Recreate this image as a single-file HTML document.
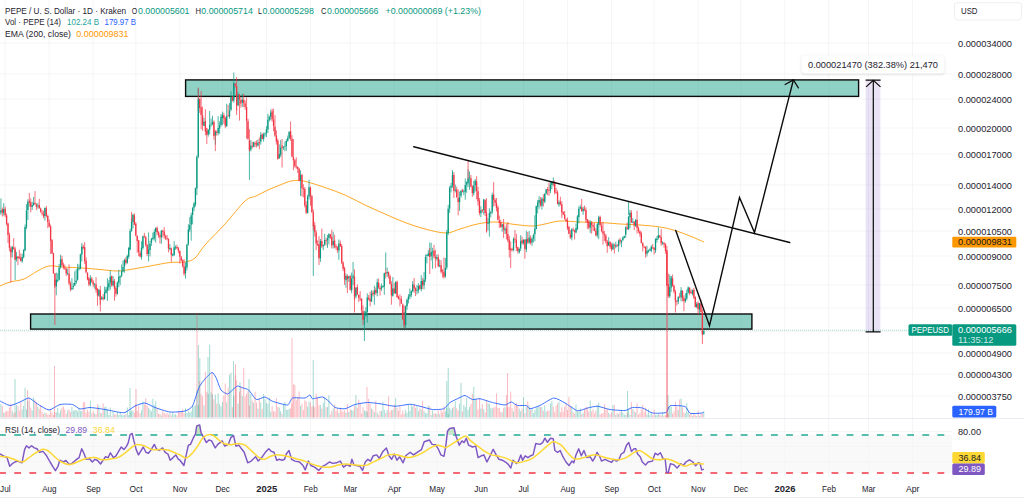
<!DOCTYPE html>
<html><head><meta charset="utf-8"><title>PEPE / U. S. Dollar</title>
<style>html,body{margin:0;padding:0;background:#fff;width:1024px;height:498px;overflow:hidden;font-family:"Liberation Sans",sans-serif}</style>
</head><body>
<svg width="1024" height="498" viewBox="0 0 1024 498" style="position:absolute;left:0;top:0" font-family="Liberation Sans, sans-serif">
<rect x="0" y="0" width="1024" height="498" fill="#ffffff"/>
<rect x="0" y="435" width="952" height="38" fill="#f9f9f9"/>
<path d="M5.17 0V478 M49.19 0V478 M93.21 0V478 M135.81 0V478 M179.83 0V478 M222.43 0V478 M266.45 0V478 M310.47 0V478 M350.23 0V478 M394.25 0V478 M436.85 0V478 M480.87 0V478 M523.47 0V478 M567.49 0V478 M611.51 0V478 M654.11 0V478 M698.13 0V478 M740.73 0V478 M784.75 0V478 M828.77 0V478 M868.53 0V478 M912.55 0V478 M0 43H952 M0 74H952 M0 99H952 M0 128H952 M0 154H952 M0 185H952 M0 209H952 M0 231H952 M0 256H952 M0 285H952 M0 308H952 M0 331.6H952 M0 353H952 M0 374H952 M0 396H952 M0 431.5H952 M0 446.5H952 M0 461.5H952" stroke="#f5f5f7" stroke-width="1" fill="none"/>
<path d="M0 418.5H1024" stroke="#e9ebf0" stroke-width="1"/>
<path d="M0 497.5H1024" stroke="#ececec" stroke-width="1"/>
<rect x="185.6" y="79.9" width="673" height="16.5" fill="#089981" fill-opacity="0.45" stroke="#0b0b0b" stroke-width="1.4"/>
<rect x="30.6" y="314.0" width="721.3" height="15.1" fill="#089981" fill-opacity="0.45" stroke="#0b0b0b" stroke-width="1.4"/>
<path d="M-0.51 417.5V407.47 M0.91 417.5V404.07 M3.75 417.5V412.52 M12.27 417.5V410.93 M16.53 417.5V404.96 M22.21 417.5V409.35 M23.63 417.5V405.77 M25.05 417.5V387.69 M26.47 417.5V409.53 M27.89 417.5V401.09 M32.15 417.5V410.50 M33.57 417.5V397.39 M37.83 417.5V406.52 M44.93 417.5V412.44 M56.29 417.5V412.31 M57.71 417.5V407.95 M59.13 417.5V413.11 M60.55 417.5V410.21 M67.65 417.5V410.49 M71.91 417.5V406.91 M73.33 417.5V410.94 M74.75 417.5V410.09 M76.17 417.5V410.09 M77.59 417.5V411.49 M79.01 417.5V408.26 M80.43 417.5V411.10 M81.85 417.5V410.88 M90.37 417.5V400.58 M94.63 417.5V413.62 M98.89 417.5V405.67 M101.73 417.5V413.08 M104.57 417.5V407.25 M105.99 417.5V406.59 M107.41 417.5V409.27 M108.83 417.5V414.95 M110.25 417.5V407.64 M113.09 417.5V411.65 M117.35 417.5V411.84 M118.77 417.5V414.97 M120.19 417.5V411.99 M121.61 417.5V414.69 M123.03 417.5V415.32 M124.45 417.5V414.94 M127.29 417.5V407.56 M128.71 417.5V415.15 M130.13 417.5V411.43 M131.55 417.5V410.64 M132.97 417.5V410.56 M141.49 417.5V410.25 M142.91 417.5V401.31 M148.59 417.5V407.82 M150.01 417.5V409.35 M151.43 417.5V411.39 M152.85 417.5V398.86 M154.27 417.5V404.98 M155.69 417.5V400.85 M161.37 417.5V415.43 M169.89 417.5V413.14 M172.73 417.5V412.37 M174.15 417.5V414.86 M175.57 417.5V414.10 M185.51 417.5V408.26 M186.93 417.5V413.00 M188.35 417.5V410.96 M189.77 417.5V412.79 M191.19 417.5V411.38 M192.61 417.5V405.76 M194.03 417.5V405.99 M195.45 417.5V404.86 M196.87 417.5V390.37 M198.29 417.5V405.26 M203.97 417.5V405.47 M208.23 417.5V394.04 M209.65 417.5V344.71 M211.07 417.5V392.46 M212.49 417.5V394.29 M215.33 417.5V394.50 M218.17 417.5V393.47 M219.59 417.5V404.08 M221.01 417.5V406.39 M222.43 417.5V401.97 M226.69 417.5V402.36 M229.53 417.5V374.79 M230.95 417.5V372.86 M233.79 417.5V396.31 M238.05 417.5V403.61 M242.31 417.5V396.09 M250.83 417.5V394.37 M253.67 417.5V402.91 M257.93 417.5V408.55 M260.77 417.5V402.64 M263.61 417.5V393.93 M265.03 417.5V399.10 M266.45 417.5V402.83 M267.87 417.5V404.24 M269.29 417.5V397.50 M270.71 417.5V411.67 M279.23 417.5V407.54 M280.65 417.5V411.05 M283.49 417.5V403.85 M284.91 417.5V401.99 M286.33 417.5V409.75 M287.75 417.5V409.93 M289.17 417.5V408.70 M300.53 417.5V405.82 M307.63 417.5V406.61 M309.05 417.5V401.63 M320.41 417.5V405.04 M323.25 417.5V402.87 M324.67 417.5V396.95 M327.51 417.5V406.87 M328.93 417.5V395.27 M333.19 417.5V408.39 M338.87 417.5V412.99 M345.97 417.5V412.65 M348.81 417.5V411.93 M351.65 417.5V409.84 M353.07 417.5V410.54 M355.91 417.5V395.15 M364.43 417.5V410.49 M365.85 417.5V411.01 M367.27 417.5V411.67 M371.53 417.5V408.48 M374.37 417.5V412.28 M377.21 417.5V412.61 M381.47 417.5V410.97 M382.89 417.5V401.85 M384.31 417.5V409.67 M387.15 417.5V410.16 M392.83 417.5V410.01 M395.67 417.5V398.22 M405.61 417.5V410.12 M407.03 417.5V412.82 M408.45 417.5V404.39 M409.87 417.5V411.00 M411.29 417.5V404.55 M412.71 417.5V406.67 M416.97 417.5V406.39 M418.39 417.5V411.19 M421.23 417.5V409.50 M424.07 417.5V410.93 M425.49 417.5V413.42 M426.91 417.5V412.91 M428.33 417.5V405.63 M431.17 417.5V415.10 M432.59 417.5V410.28 M436.85 417.5V413.94 M439.69 417.5V414.20 M445.37 417.5V411.33 M446.79 417.5V407.74 M448.21 417.5V413.78 M449.63 417.5V407.96 M451.05 417.5V409.72 M452.47 417.5V407.94 M455.31 417.5V401.11 M459.57 417.5V403.70 M460.99 417.5V382.83 M463.83 417.5V405.00 M465.25 417.5V407.11 M466.67 417.5V397.94 M468.09 417.5V409.85 M469.51 417.5V406.93 M473.77 417.5V386.68 M475.19 417.5V399.02 M480.87 417.5V408.53 M483.71 417.5V409.16 M487.97 417.5V403.14 M489.39 417.5V403.96 M490.81 417.5V407.95 M492.23 417.5V408.41 M502.17 417.5V412.43 M505.01 417.5V407.18 M513.53 417.5V411.68 M519.21 417.5V408.58 M520.63 417.5V411.29 M523.47 417.5V397.10 M526.31 417.5V407.09 M529.15 417.5V405.14 M531.99 417.5V407.84 M533.41 417.5V413.20 M534.83 417.5V410.44 M536.25 417.5V407.75 M537.67 417.5V405.71 M539.09 417.5V406.92 M541.93 417.5V406.98 M544.77 417.5V405.37 M546.19 417.5V411.74 M550.45 417.5V403.35 M551.87 417.5V401.07 M558.97 417.5V401.88 M571.75 417.5V406.56 M576.01 417.5V404.45 M577.43 417.5V411.18 M578.85 417.5V411.89 M580.27 417.5V408.33 M583.11 417.5V412.90 M590.21 417.5V400.54 M597.31 417.5V404.71 M598.73 417.5V402.42 M608.67 417.5V412.87 M612.93 417.5V404.86 M615.77 417.5V414.71 M618.61 417.5V414.04 M621.45 417.5V410.19 M622.87 417.5V412.50 M624.29 417.5V414.50 M625.71 417.5V415.07 M628.55 417.5V408.90 M629.97 417.5V414.90 M632.81 417.5V408.90 M635.65 417.5V412.42 M647.01 417.5V414.33 M648.43 417.5V409.21 M649.85 417.5V415.17 M651.27 417.5V411.77 M655.53 417.5V415.14 M656.95 417.5V415.05 M658.37 417.5V414.00 M662.63 417.5V412.46 M669.73 417.5V406.10 M671.15 417.5V407.01 M678.25 417.5V409.96 M681.09 417.5V398.47 M685.35 417.5V413.28 M686.77 417.5V402.95 M688.19 417.5V411.86 M692.45 417.5V416.09 M696.71 417.5V416.20 M699.55 417.5V416.12 M703.81 417.5V410.95 M198.40 417.5V345 M199.80 417.5V358 M208.00 417.5V357 M233.50 417.5V361 M249.00 417.5V379 M313.25 417.5V360 M448.25 417.5V368 M446.80 417.5V381 M627.50 417.5V391 M668.00 417.5V395 M15.00 417.5V379 M130.00 417.5V388 M240.00 417.5V382" stroke="#089981" stroke-opacity="0.38" stroke-width="0.95" fill="none"/>
<path d="M2.33 417.5V405.72 M5.17 417.5V412.39 M6.59 417.5V410.74 M8.01 417.5V411.32 M9.43 417.5V407.57 M10.85 417.5V403.73 M13.69 417.5V413.55 M15.11 417.5V412.30 M17.95 417.5V406.29 M19.37 417.5V410.61 M20.79 417.5V402.42 M29.31 417.5V399.04 M30.73 417.5V407.56 M34.99 417.5V399.77 M36.41 417.5V401.84 M39.25 417.5V408.95 M40.67 417.5V404.85 M42.09 417.5V411.50 M43.51 417.5V413.98 M46.35 417.5V413.27 M47.77 417.5V414.64 M49.19 417.5V414.63 M50.61 417.5V408.82 M52.03 417.5V412.77 M53.45 417.5V415.02 M54.87 417.5V412.22 M61.97 417.5V407.73 M63.39 417.5V406.42 M64.81 417.5V409.40 M66.23 417.5V413.78 M69.07 417.5V409.33 M70.49 417.5V411.98 M83.27 417.5V402.22 M84.69 417.5V401.85 M86.11 417.5V412.55 M87.53 417.5V409.56 M88.95 417.5V411.58 M91.79 417.5V413.14 M93.21 417.5V411.38 M96.05 417.5V414.09 M97.47 417.5V404.22 M100.31 417.5V412.91 M103.15 417.5V403.48 M111.67 417.5V416.30 M114.51 417.5V414.46 M115.93 417.5V414.32 M125.87 417.5V414.29 M134.39 417.5V412.77 M135.81 417.5V404.32 M137.23 417.5V411.02 M138.65 417.5V406.10 M140.07 417.5V413.12 M144.33 417.5V404.55 M145.75 417.5V398.08 M147.17 417.5V405.56 M157.11 417.5V407.96 M158.53 417.5V413.87 M159.95 417.5V413.68 M162.79 417.5V410.97 M164.21 417.5V413.07 M165.63 417.5V414.53 M167.05 417.5V412.77 M168.47 417.5V414.55 M171.31 417.5V415.31 M176.99 417.5V415.46 M178.41 417.5V411.13 M179.83 417.5V412.03 M181.25 417.5V411.49 M182.67 417.5V409.26 M184.09 417.5V413.10 M199.71 417.5V381.05 M201.13 417.5V394.14 M202.55 417.5V396.38 M205.39 417.5V371.57 M206.81 417.5V391.76 M213.91 417.5V399.29 M216.75 417.5V403.64 M223.85 417.5V395.65 M225.27 417.5V383.67 M228.11 417.5V387.64 M232.37 417.5V407.11 M235.21 417.5V375.28 M236.63 417.5V380.19 M239.47 417.5V391.92 M240.89 417.5V386.65 M243.73 417.5V367.78 M245.15 417.5V396.51 M246.57 417.5V393.75 M247.99 417.5V391.05 M249.41 417.5V405.72 M252.25 417.5V400.89 M255.09 417.5V391.79 M256.51 417.5V402.51 M259.35 417.5V398.99 M262.19 417.5V408.96 M272.13 417.5V406.24 M273.55 417.5V411.08 M274.97 417.5V411.55 M276.39 417.5V398.10 M277.81 417.5V406.80 M282.07 417.5V413.75 M290.59 417.5V408.38 M292.01 417.5V403.68 M293.43 417.5V384.35 M294.85 417.5V384.75 M296.27 417.5V400.24 M297.69 417.5V397.14 M299.11 417.5V391.45 M301.95 417.5V403.85 M303.37 417.5V410.22 M304.79 417.5V400.35 M306.21 417.5V401.57 M310.47 417.5V402.44 M311.89 417.5V406.82 M313.31 417.5V405.68 M314.73 417.5V407.22 M316.15 417.5V393.59 M317.57 417.5V396.97 M318.99 417.5V405.14 M321.83 417.5V408.70 M326.09 417.5V407.40 M330.35 417.5V414.52 M331.77 417.5V411.04 M334.61 417.5V404.59 M336.03 417.5V410.89 M337.45 417.5V409.08 M340.29 417.5V407.51 M341.71 417.5V410.50 M343.13 417.5V411.74 M344.55 417.5V410.52 M347.39 417.5V404.22 M350.23 417.5V409.57 M354.49 417.5V406.22 M357.33 417.5V407.74 M358.75 417.5V399.76 M360.17 417.5V403.15 M361.59 417.5V413.74 M363.01 417.5V407.18 M368.69 417.5V398.73 M370.11 417.5V404.07 M372.95 417.5V409.66 M375.79 417.5V400.76 M378.63 417.5V414.90 M380.05 417.5V410.91 M385.73 417.5V412.98 M388.57 417.5V396.55 M389.99 417.5V411.82 M391.41 417.5V409.94 M394.25 417.5V404.55 M397.09 417.5V407.90 M398.51 417.5V410.82 M399.93 417.5V406.25 M401.35 417.5V414.43 M402.77 417.5V410.42 M404.19 417.5V413.79 M414.13 417.5V403.85 M415.55 417.5V407.84 M419.81 417.5V408.44 M422.65 417.5V401.05 M429.75 417.5V406.31 M434.01 417.5V413.49 M435.43 417.5V413.46 M438.27 417.5V410.33 M441.11 417.5V409.99 M442.53 417.5V412.36 M443.95 417.5V406.12 M453.89 417.5V406.86 M456.73 417.5V408.23 M458.15 417.5V410.53 M462.41 417.5V411.51 M470.93 417.5V404.03 M472.35 417.5V393.64 M476.61 417.5V399.18 M478.03 417.5V409.60 M479.45 417.5V398.32 M482.29 417.5V404.05 M485.13 417.5V412.42 M486.55 417.5V400.57 M493.65 417.5V407.61 M495.07 417.5V407.10 M496.49 417.5V393.36 M497.91 417.5V407.82 M499.33 417.5V407.85 M500.75 417.5V411.96 M503.59 417.5V408.13 M506.43 417.5V395.08 M507.85 417.5V407.32 M509.27 417.5V406.88 M510.69 417.5V391.61 M512.11 417.5V408.21 M514.95 417.5V404.84 M516.37 417.5V402.84 M517.79 417.5V405.55 M522.05 417.5V408.72 M524.89 417.5V413.19 M527.73 417.5V401.52 M530.57 417.5V409.70 M540.51 417.5V406.88 M543.35 417.5V410.83 M547.61 417.5V410.56 M549.03 417.5V410.54 M553.29 417.5V406.71 M554.71 417.5V412.19 M556.13 417.5V405.55 M557.55 417.5V403.46 M560.39 417.5V412.29 M561.81 417.5V407.10 M563.23 417.5V411.75 M564.65 417.5V406.68 M566.07 417.5V403.58 M567.49 417.5V410.05 M568.91 417.5V396.97 M570.33 417.5V405.45 M573.17 417.5V412.23 M574.59 417.5V413.96 M581.69 417.5V414.23 M584.53 417.5V408.87 M585.95 417.5V406.79 M587.37 417.5V407.60 M588.79 417.5V411.50 M591.63 417.5V411.40 M593.05 417.5V409.20 M594.47 417.5V413.46 M595.89 417.5V410.68 M600.15 417.5V414.41 M601.57 417.5V413.61 M602.99 417.5V412.83 M604.41 417.5V404.25 M605.83 417.5V409.77 M607.25 417.5V409.15 M610.09 417.5V414.49 M611.51 417.5V412.64 M614.35 417.5V405.17 M617.19 417.5V413.20 M620.03 417.5V411.95 M627.13 417.5V413.00 M631.39 417.5V402.15 M634.23 417.5V411.24 M637.07 417.5V403.35 M638.49 417.5V414.61 M639.91 417.5V412.92 M641.33 417.5V409.75 M642.75 417.5V404.93 M644.17 417.5V412.31 M645.59 417.5V407.60 M652.69 417.5V415.26 M654.11 417.5V409.75 M659.79 417.5V414.62 M661.21 417.5V415.49 M664.05 417.5V415.76 M665.47 417.5V415.14 M666.89 417.5V413.45 M668.31 417.5V413.32 M672.57 417.5V413.61 M673.99 417.5V411.38 M675.41 417.5V402.10 M676.83 417.5V406.83 M679.67 417.5V399.59 M682.51 417.5V407.41 M683.93 417.5V412.29 M689.61 417.5V414.42 M691.03 417.5V413.82 M693.87 417.5V412.94 M695.29 417.5V415.31 M698.13 417.5V410.73 M700.97 417.5V413.85 M702.39 417.5V413.97 M54.50 417.5V366 M197.00 417.5V313 M235.50 417.5V364 M292.00 417.5V338 M367.00 417.5V387 M507.50 417.5V373 M27.50 417.5V390 M136.00 417.5V389 M212.00 417.5V372" stroke="#f23645" stroke-opacity="0.36" stroke-width="0.95" fill="none"/>
<path d="M0.00 401.00 C1.00 401.45 8.00 405.40 10.00 405.50 C12.00 405.60 18.10 402.75 20.00 402.00 C21.90 401.25 27.25 397.80 29.00 398.00 C30.75 398.20 35.50 402.80 37.50 404.00 C39.50 405.20 46.75 409.95 49.00 410.00 C51.25 410.05 57.65 405.05 60.00 404.50 C62.35 403.95 70.50 404.05 72.50 404.50 C74.50 404.95 78.25 408.70 80.00 409.00 C81.75 409.30 87.50 407.45 90.00 407.50 C92.50 407.55 102.25 409.05 105.00 409.50 C107.75 409.95 115.50 411.70 117.50 412.00 C119.50 412.30 123.25 413.10 125.00 412.50 C126.75 411.90 133.00 406.95 135.00 406.00 C137.00 405.05 143.00 402.85 145.00 403.00 C147.00 403.15 152.50 406.60 155.00 407.50 C157.50 408.40 167.00 411.65 170.00 412.00 C173.00 412.35 182.75 411.60 185.00 411.00 C187.25 410.40 191.10 408.35 192.50 406.00 C193.90 403.65 197.75 390.20 199.00 387.50 C200.25 384.80 203.70 380.50 205.00 379.00 C206.30 377.50 210.90 372.65 212.00 372.50 C213.10 372.35 215.10 375.75 216.00 377.50 C216.90 379.25 219.85 388.35 221.00 390.00 C222.15 391.65 226.35 394.00 227.50 394.00 C228.65 394.00 231.50 390.80 232.50 390.00 C233.50 389.20 236.45 386.20 237.50 386.00 C238.55 385.80 241.88 387.60 243.00 388.00 C244.12 388.40 247.43 388.85 248.75 390.00 C250.07 391.15 254.62 398.80 256.25 399.50 C257.88 400.20 263.38 396.82 265.00 397.00 C266.62 397.18 270.25 400.45 272.50 401.25 C274.75 402.05 285.50 405.32 287.50 405.00 C289.50 404.68 290.75 398.70 292.50 398.00 C294.25 397.30 303.25 398.30 305.00 398.00 C306.75 397.70 309.25 394.93 310.00 395.00 C310.75 395.07 311.25 398.55 312.50 398.75 C313.75 398.95 320.88 396.75 322.50 397.00 C324.12 397.25 327.50 400.20 328.75 401.25 C330.00 402.30 333.38 406.75 335.00 407.50 C336.62 408.25 343.00 409.05 345.00 408.75 C347.00 408.45 352.75 405.12 355.00 404.50 C357.25 403.88 365.00 402.57 367.50 402.50 C370.00 402.43 377.25 403.38 380.00 403.75 C382.75 404.12 392.00 406.20 395.00 406.25 C398.00 406.30 407.50 404.25 410.00 404.25 C412.50 404.25 417.75 405.73 420.00 406.25 C422.25 406.77 430.12 409.25 432.50 409.50 C434.88 409.75 442.00 409.45 443.75 408.75 C445.50 408.05 448.38 403.62 450.00 402.50 C451.62 401.38 458.50 398.20 460.00 397.50 C461.50 396.80 463.75 395.30 465.00 395.50 C466.25 395.70 471.00 399.18 472.50 399.50 C474.00 399.82 478.00 398.45 480.00 398.75 C482.00 399.05 490.00 401.88 492.50 402.50 C495.00 403.12 503.12 405.05 505.00 405.00 C506.88 404.95 510.00 401.95 511.25 402.00 C512.50 402.05 516.00 405.15 517.50 405.50 C519.00 405.85 525.00 405.18 526.25 405.50 C527.50 405.82 528.62 408.75 530.00 408.75 C531.38 408.75 537.62 406.57 540.00 405.50 C542.38 404.43 551.25 398.25 553.75 398.00 C556.25 397.75 562.62 401.73 565.00 403.00 C567.38 404.27 575.25 410.25 577.50 410.75 C579.75 411.25 585.50 408.45 587.50 408.00 C589.50 407.55 595.25 406.10 597.50 406.25 C599.75 406.40 607.25 409.07 610.00 409.50 C612.75 409.93 622.75 410.70 625.00 410.50 C627.25 410.30 630.75 407.75 632.50 407.50 C634.25 407.25 640.50 407.45 642.50 408.00 C644.50 408.55 650.12 412.55 652.50 413.00 C654.88 413.45 664.50 413.23 666.25 412.50 C668.00 411.77 668.12 406.35 670.00 405.75 C671.88 405.15 683.00 405.75 685.00 406.50 C687.00 407.25 688.50 412.57 690.00 413.25 C691.50 413.93 698.62 413.32 700.00 413.25 C701.38 413.18 703.38 412.57 703.75 412.50" stroke="#2962ff" stroke-width="0.9" fill="none" stroke-linejoin="round"/>
<path d="M0.00 286.00 C1.67 285.33 6.00 283.17 10.00 282.00 C14.00 280.83 19.42 280.83 24.00 279.00 C28.58 277.17 33.33 273.17 37.50 271.00 C41.67 268.83 44.83 266.67 49.00 266.00 C53.17 265.33 56.92 266.67 62.50 267.00 C68.08 267.33 76.25 267.58 82.50 268.00 C88.75 268.42 94.17 269.00 100.00 269.50 C105.83 270.00 112.50 271.00 117.50 271.00 C122.50 271.00 124.58 270.33 130.00 269.50 C135.42 268.67 143.33 267.17 150.00 266.00 C156.67 264.83 164.17 263.17 170.00 262.50 C175.83 261.83 180.83 262.75 185.00 262.00 C189.17 261.25 191.67 260.83 195.00 258.00 C198.33 255.17 200.00 250.67 205.00 245.00 C210.00 239.33 218.33 231.33 225.00 224.00 C231.67 216.67 239.83 205.67 245.00 201.00 C250.17 196.33 252.17 197.83 256.00 196.00 C259.83 194.17 264.00 191.83 268.00 190.00 C272.00 188.17 276.17 186.50 280.00 185.00 C283.83 183.50 287.67 181.75 291.00 181.00 C294.33 180.25 297.25 180.33 300.00 180.50 C302.75 180.67 303.33 180.83 307.50 182.00 C311.67 183.17 318.75 185.33 325.00 187.50 C331.25 189.67 338.33 192.08 345.00 195.00 C351.67 197.92 358.33 201.83 365.00 205.00 C371.67 208.17 378.33 211.08 385.00 214.00 C391.67 216.92 398.33 220.00 405.00 222.50 C411.67 225.00 418.17 227.25 425.00 229.00 C431.83 230.75 440.17 233.00 446.00 233.00 C451.83 233.00 454.75 230.50 460.00 229.00 C465.25 227.50 471.67 225.17 477.50 224.00 C483.33 222.83 488.75 221.92 495.00 222.00 C501.25 222.08 508.75 223.83 515.00 224.50 C521.25 225.17 527.50 226.08 532.50 226.00 C537.50 225.92 540.42 224.83 545.00 224.00 C549.58 223.17 554.17 221.33 560.00 221.00 C565.83 220.67 573.33 221.75 580.00 222.00 C586.67 222.25 593.33 222.17 600.00 222.50 C606.67 222.83 613.33 223.58 620.00 224.00 C626.67 224.42 633.33 224.50 640.00 225.00 C646.67 225.50 654.17 226.08 660.00 227.00 C665.83 227.92 670.00 229.00 675.00 230.50 C680.00 232.00 685.17 234.08 690.00 236.00 C694.83 237.92 701.67 241.00 704.00 242.00" stroke="#ff9800" stroke-width="0.85" fill="none" stroke-linejoin="round"/>
<path d="M-0.51 210.60V218.43 M0.91 198.42V214.93 M3.75 203.13V215.71 M12.27 245.89V257.58 M16.53 252.06V261.62 M22.21 253.73V262.82 M23.63 249.40V258.44 M25.05 224.50V250.94 M26.47 204.17V229.19 M27.89 199.24V219.92 M32.15 201.75V210.00 M33.57 196.97V205.76 M37.83 202.91V208.61 M44.93 207.44V220.66 M56.29 272.55V295.19 M57.71 273.12V282.37 M59.13 264.05V280.35 M60.55 254.71V268.74 M67.65 268.54V275.32 M71.91 278.16V290.40 M73.33 282.87V289.45 M74.75 271.29V286.01 M76.17 269.18V284.06 M77.59 263.77V280.67 M79.01 264.43V270.60 M80.43 253.63V269.37 M81.85 246.18V261.58 M90.37 275.04V286.28 M94.63 283.33V288.72 M98.89 289.03V296.71 M101.73 296.08V299.82 M104.57 286.53V299.70 M105.99 287.17V293.69 M107.41 278.17V300.90 M108.83 280.09V290.84 M110.25 270.43V289.56 M113.09 275.97V286.57 M117.35 281.42V294.71 M118.77 269.70V287.20 M120.19 275.42V285.13 M121.61 264.48V277.24 M123.03 260.68V272.29 M124.45 258.73V272.78 M127.29 254.60V263.80 M128.71 246.95V258.84 M130.13 228.63V250.21 M131.55 217.55V231.77 M132.97 213.84V228.48 M141.49 241.31V259.57 M142.91 235.77V249.64 M148.59 232.48V261.48 M150.01 241.07V256.43 M151.43 237.81V245.97 M152.85 232.59V240.17 M154.27 229.23V240.65 M155.69 227.22V242.55 M161.37 230.10V243.77 M169.89 244.09V250.37 M172.73 253.19V256.40 M174.15 241.21V256.06 M175.57 245.30V249.87 M185.51 262.29V278.62 M186.93 243.97V270.36 M188.35 224.23V245.57 M189.77 217.07V232.17 M191.19 212.64V240.68 M192.61 206.92V224.34 M194.03 202.14V211.00 M195.45 187.52V206.57 M196.87 155.29V195.06 M198.29 88.50V157.88 M203.97 117.69V126.11 M208.23 128.86V136.61 M209.65 111.02V134.42 M211.07 118.50V126.82 M212.49 115.70V125.38 M215.33 130.74V144.58 M218.17 116.22V135.28 M219.59 121.33V133.77 M221.01 113.95V126.76 M222.43 111.58V125.05 M226.69 103.79V126.88 M229.53 103.02V118.78 M230.95 91.35V111.30 M233.79 82.85V102.76 M238.05 91.76V105.87 M242.31 93.75V106.92 M250.83 139.88V151.36 M253.67 141.78V147.12 M257.93 139.32V146.47 M260.77 132.04V144.58 M263.61 132.65V141.58 M265.03 132.50V136.59 M266.45 126.05V137.01 M267.87 113.71V133.07 M269.29 115.50V121.59 M270.71 109.60V120.37 M279.23 144.29V158.77 M280.65 140.04V157.08 M283.49 146.22V149.80 M284.91 141.35V151.23 M286.33 139.11V150.76 M287.75 135.49V141.84 M289.17 131.06V139.21 M300.53 170.27V195.98 M307.63 194.80V213.60 M309.05 179.71V199.42 M320.41 239.00V262.07 M323.25 244.28V250.11 M324.67 233.82V246.16 M327.51 234.96V247.89 M328.93 233.12V244.45 M333.19 231.77V248.59 M338.87 239.42V259.91 M345.97 273.55V287.75 M348.81 275.77V282.01 M351.65 272.57V293.30 M353.07 274.91V278.36 M355.91 287.16V298.50 M364.43 310.78V324.75 M365.85 307.11V316.76 M367.27 293.38V322.57 M371.53 290.30V302.04 M374.37 285.71V304.84 M377.21 278.85V296.35 M381.47 283.46V290.81 M382.89 285.28V287.84 M384.31 272.68V294.84 M387.15 267.54V276.79 M392.83 277.07V296.66 M395.67 281.18V294.14 M405.61 305.30V328.24 M407.03 298.49V309.85 M408.45 294.02V303.43 M409.87 288.47V299.08 M411.29 290.18V297.17 M412.71 281.00V292.34 M416.97 284.93V294.25 M418.39 283.26V293.19 M421.23 275.07V291.34 M424.07 271.85V289.37 M425.49 254.62V282.08 M426.91 253.85V263.32 M428.33 250.06V256.35 M431.17 242.77V260.55 M432.59 247.81V268.73 M436.85 254.58V260.57 M439.69 259.51V267.25 M445.37 258.03V277.67 M446.79 229.88V269.59 M448.21 204.90V234.97 M449.63 186.18V212.87 M451.05 182.91V192.47 M452.47 171.78V187.95 M455.31 184.57V192.40 M459.57 191.55V210.87 M460.99 189.79V197.75 M463.83 189.52V195.24 M465.25 178.47V199.69 M466.67 181.17V192.82 M468.09 169.34V187.09 M469.51 171.42V189.79 M473.77 180.77V195.55 M475.19 178.97V191.47 M480.87 206.29V217.17 M483.71 198.88V214.59 M487.97 218.08V230.64 M489.39 208.23V236.65 M490.81 210.88V217.37 M492.23 192.73V213.92 M502.17 223.79V231.70 M505.01 226.52V233.94 M513.53 237.41V251.25 M519.21 247.69V253.70 M520.63 235.13V250.98 M523.47 239.38V244.51 M526.31 230.62V252.19 M529.15 231.02V243.97 M531.99 237.32V245.80 M533.41 233.65V242.46 M534.83 215.35V241.30 M536.25 205.56V229.38 M537.67 199.90V213.39 M539.09 196.18V208.79 M541.93 197.17V209.61 M544.77 192.89V203.23 M546.19 189.01V194.48 M550.45 181.60V193.20 M551.87 181.08V189.09 M558.97 200.41V206.91 M571.75 228.23V240.35 M576.01 223.53V233.24 M577.43 215.14V230.27 M578.85 206.34V223.33 M580.27 204.78V209.22 M583.11 206.58V214.80 M590.21 220.18V232.91 M597.31 222.71V237.55 M598.73 215.75V239.19 M608.67 237.19V245.91 M612.93 242.52V249.91 M615.77 241.77V248.31 M618.61 239.59V251.88 M621.45 239.77V247.18 M622.87 236.58V241.32 M624.29 235.55V238.37 M625.71 226.35V237.75 M628.55 215.87V230.13 M629.97 209.93V228.35 M632.81 218.10V223.33 M635.65 219.15V226.93 M647.01 245.76V256.44 M648.43 249.63V252.69 M649.85 248.38V251.22 M651.27 245.24V252.26 M655.53 238.16V252.98 M656.95 236.08V242.50 M658.37 227.27V239.44 M662.63 241.39V245.03 M669.73 274.54V297.90 M671.15 276.13V292.07 M678.25 296.12V304.11 M681.09 287.11V301.40 M685.35 293.37V302.85 M686.77 289.47V300.35 M688.19 286.44V293.72 M692.45 289.46V295.37 M696.71 302.05V308.25 M699.55 302.93V313.39 M703.81 330.00V335.17 M15.11 250V280 M233.79 72.5V90 M249.41 148V180 M313.31 225V276 M353.07 262V285 M364.43 318V341 M385.73 252.5V270 M404.19 312V327.5 M429.75 242.5V255 M452.47 170V185 M553.29 177.5V185 M628.55 201V215 M671.15 276V285 M81.85 243V250" stroke="#089981" stroke-width="0.8" fill="none" stroke-opacity="0.9"/>
<path d="M2.33 207.50V216.61 M5.17 206.40V217.18 M6.59 213.45V225.67 M8.01 222.71V242.93 M9.43 232.65V251.40 M10.85 246.08V256.99 M13.69 238.07V249.77 M15.11 246.82V260.01 M17.95 256.04V265.09 M19.37 249.94V259.29 M20.79 253.40V261.50 M29.31 192.88V206.63 M30.73 198.31V212.34 M34.99 191.12V205.15 M36.41 203.30V210.01 M39.25 198.82V208.74 M40.67 207.53V212.73 M42.09 210.17V215.39 M43.51 210.63V218.31 M46.35 205.85V217.44 M47.77 214.66V228.18 M49.19 219.43V227.28 M50.61 224.57V253.98 M52.03 239.06V253.97 M53.45 252.67V273.86 M54.87 272.96V287.90 M61.97 255.82V266.30 M63.39 262.55V269.43 M64.81 264.50V270.12 M66.23 267.88V276.16 M69.07 264.36V285.39 M70.49 281.49V291.32 M83.27 244.56V249.47 M84.69 242.12V263.88 M86.11 257.35V273.54 M87.53 272.13V280.34 M88.95 276.84V286.31 M91.79 276.93V282.88 M93.21 280.12V287.17 M96.05 277.19V292.66 M97.47 287.92V305.77 M100.31 286.01V304.70 M103.15 294.13V300.63 M111.67 275.45V286.68 M114.51 279.01V300.65 M115.93 286.09V296.63 M125.87 257.22V264.64 M134.39 213.45V225.32 M135.81 222.05V236.42 M137.23 235.12V252.84 M138.65 239.79V256.13 M140.07 250.66V257.51 M144.33 232.84V238.40 M145.75 235.89V246.67 M147.17 243.88V256.14 M157.11 226.31V235.05 M158.53 231.36V237.74 M159.95 233.57V243.55 M162.79 229.70V237.43 M164.21 227.11V238.78 M165.63 234.58V240.02 M167.05 235.04V240.42 M168.47 238.30V252.41 M171.31 247.54V261.82 M176.99 244.70V249.29 M178.41 247.04V253.20 M179.83 250.32V263.60 M181.25 255.96V261.37 M182.67 259.34V267.39 M184.09 259.22V275.81 M199.71 98.21V112.86 M201.13 91.09V129.28 M202.55 106.55V130.70 M205.39 109.23V135.35 M206.81 127.89V135.01 M213.91 120.33V139.70 M216.75 130.44V135.66 M223.85 112.74V123.82 M225.27 116.49V128.17 M228.11 104.85V116.57 M232.37 96.00V101.48 M235.21 83.27V87.62 M236.63 77.05V110.62 M239.47 93.85V120.61 M240.89 97.27V107.62 M243.73 93.76V107.20 M245.15 100.29V109.72 M246.57 97.47V138.74 M247.99 118.74V140.09 M249.41 129.21V151.59 M252.25 141.81V148.55 M255.09 141.24V147.27 M256.51 140.41V147.47 M259.35 137.50V149.26 M262.19 133.39V139.44 M272.13 108.64V121.65 M273.55 108.81V131.21 M274.97 115.29V136.78 M276.39 130.32V144.64 M277.81 138.56V159.63 M282.07 139.03V148.14 M290.59 121.51V140.75 M292.01 135.13V157.45 M293.43 139.01V170.12 M294.85 159.00V167.60 M296.27 157.29V168.89 M297.69 166.26V172.98 M299.11 167.75V181.33 M301.95 173.63V196.52 M303.37 184.25V197.34 M304.79 187.08V207.37 M306.21 201.23V214.01 M310.47 186.48V205.72 M311.89 195.02V212.71 M313.31 209.49V230.17 M314.73 221.96V236.58 M316.15 230.12V250.06 M317.57 240.34V246.01 M318.99 236.26V258.36 M321.83 228.69V248.04 M326.09 237.68V245.38 M330.35 233.83V239.02 M331.77 229.60V248.36 M334.61 234.73V248.14 M336.03 244.12V249.79 M337.45 245.93V252.83 M340.29 240.60V246.90 M341.71 243.95V264.26 M343.13 261.30V271.07 M344.55 266.69V284.85 M347.39 274.40V293.08 M350.23 275.24V290.67 M354.49 269.34V300.35 M357.33 284.40V294.94 M358.75 294.22V301.96 M360.17 291.07V300.95 M361.59 298.20V313.02 M363.01 305.58V325.18 M368.69 294.96V300.52 M370.11 291.47V306.42 M372.95 290.44V296.54 M375.79 287.35V295.03 M378.63 278.57V288.83 M380.05 285.69V295.45 M385.73 269.36V278.37 M388.57 271.44V278.38 M389.99 274.72V284.32 M391.41 281.25V304.71 M394.25 283.04V293.62 M397.09 280.53V297.75 M398.51 295.64V299.51 M399.93 294.27V306.46 M401.35 296.26V304.05 M402.77 303.30V320.11 M404.19 305.68V327.72 M414.13 277.92V292.72 M415.55 287.29V296.08 M419.81 284.78V289.62 M422.65 277.84V289.21 M429.75 248.04V273.97 M434.01 244.85V258.39 M435.43 249.79V268.24 M438.27 254.26V267.10 M441.11 260.18V273.53 M442.53 269.19V277.60 M443.95 257.53V278.66 M453.89 172.06V197.98 M456.73 186.66V197.84 M458.15 189.47V215.38 M462.41 188.94V192.36 M470.93 175.02V187.42 M472.35 185.42V196.80 M476.61 176.19V199.17 M478.03 186.99V205.67 M479.45 197.99V215.18 M482.29 209.06V212.78 M485.13 199.32V216.02 M486.55 198.09V232.28 M493.65 182.10V206.66 M495.07 198.22V206.04 M496.49 198.00V211.43 M497.91 205.45V220.36 M499.33 215.58V227.96 M500.75 219.75V227.73 M503.59 218.97V237.96 M506.43 224.07V239.44 M507.85 221.97V242.27 M509.27 235.86V257.55 M510.69 241.45V251.05 M512.11 247.79V251.44 M514.95 230.11V243.04 M516.37 233.81V250.99 M517.79 246.76V253.43 M522.05 236.60V244.77 M524.89 239.10V258.69 M527.73 232.04V243.85 M530.57 235.43V244.54 M540.51 197.13V206.81 M543.35 194.26V206.59 M547.61 187.13V195.14 M549.03 182.37V195.81 M553.29 181.29V186.32 M554.71 180.54V194.56 M556.13 188.00V193.65 M557.55 190.21V204.54 M560.39 196.74V205.52 M561.81 200.98V218.09 M563.23 211.18V215.20 M564.65 210.98V219.67 M566.07 218.53V222.13 M567.49 217.38V230.05 M568.91 225.69V234.20 M570.33 230.15V238.96 M573.17 227.59V231.24 M574.59 229.52V239.49 M581.69 198.95V211.77 M584.53 205.54V211.20 M585.95 207.33V222.79 M587.37 218.90V228.93 M588.79 219.76V229.45 M591.63 220.97V233.64 M593.05 222.92V230.80 M594.47 223.02V231.37 M595.89 228.43V236.29 M600.15 215.67V226.65 M601.57 223.03V232.25 M602.99 221.86V244.58 M604.41 231.00V240.98 M605.83 233.82V243.46 M607.25 239.98V252.80 M610.09 241.08V248.84 M611.51 242.93V251.21 M614.35 243.66V253.57 M617.19 244.01V246.90 M620.03 237.86V244.36 M627.13 222.54V229.84 M631.39 210.23V223.00 M634.23 221.14V230.06 M637.07 210.86V233.59 M638.49 226.41V232.92 M639.91 230.16V236.87 M641.33 231.71V243.52 M642.75 242.08V251.46 M644.17 245.78V248.27 M645.59 246.19V257.79 M652.69 244.09V248.72 M654.11 247.04V254.56 M659.79 235.03V238.03 M661.21 228.95V245.72 M664.05 241.93V247.77 M665.47 243.26V253.75 M666.89 245.76V286.29 M668.31 273.56V297.84 M672.57 274.51V286.68 M673.99 284.54V293.45 M675.41 289.76V302.35 M676.83 299.91V305.52 M679.67 293.03V298.21 M682.51 290.10V301.36 M683.93 295.51V311.08 M689.61 286.99V295.23 M691.03 289.62V293.64 M693.87 287.80V299.06 M695.29 296.35V307.38 M698.13 301.47V314.54 M700.97 299.54V312.60 M702.39 309.09V335.05 M10.85 250V282.5 M54.87 280V325 M100.31 295V311.5 M198.29 87.5V110 M206.81 128V144 M215.33 130V151 M236.63 95V115 M282.07 145V167.5 M318.99 245V265 M354.49 285V312.5 M468.09 160V180 M486.55 212V232.5 M510.69 248V268 M675.41 298V312.5 M702.39 325V344 M131.55 212V225" stroke="#f23645" stroke-width="0.8" fill="none" stroke-opacity="0.9"/>
<path d="M-0.51 211.97V213.65 M0.91 210.41V212.41 M3.75 209.09V213.31 M12.27 247.00V251.93 M16.53 256.64V259.15 M22.21 257.10V261.36 M23.63 249.87V257.03 M25.05 227.06V250.44 M26.47 210.49V227.27 M27.89 201.65V209.97 M32.15 204.97V206.99 M33.57 203.06V204.98 M37.83 205.40V206.20 M44.93 207.91V215.88 M56.29 279.57V286.54 M57.71 279.98V280.78 M59.13 267.70V279.78 M60.55 259.24V267.44 M67.65 272.92V273.72 M71.91 287.72V289.02 M73.33 285.99V286.94 M74.75 282.98V285.48 M76.17 280.58V282.45 M77.59 268.74V279.64 M79.01 268.30V269.10 M80.43 254.62V268.42 M81.85 247.12V254.41 M90.37 278.31V284.51 M94.63 283.86V284.66 M98.89 289.80V295.71 M101.73 297.79V299.14 M104.57 292.28V299.12 M105.99 289.71V292.78 M107.41 286.79V290.38 M108.83 282.96V287.13 M110.25 276.76V282.63 M113.09 280.76V285.27 M117.35 282.53V293.87 M118.77 276.70V282.70 M120.19 276.22V277.23 M121.61 271.21V275.72 M123.03 267.02V271.49 M124.45 259.92V266.44 M127.29 256.00V262.72 M128.71 247.90V256.76 M130.13 230.98V249.56 M131.55 221.66V231.10 M132.97 214.66V221.90 M141.49 247.64V257.10 M142.91 236.31V247.89 M148.59 249.60V253.99 M150.01 243.64V249.89 M151.43 238.70V242.79 M152.85 237.71V238.92 M154.27 231.93V238.20 M155.69 227.93V232.10 M161.37 230.70V237.38 M169.89 247.96V249.03 M172.73 254.80V255.79 M174.15 247.25V254.91 M175.57 246.72V247.52 M185.51 266.63V273.34 M186.93 244.64V267.27 M188.35 229.45V244.44 M189.77 225.05V229.63 M191.19 215.25V224.69 M192.61 207.98V215.10 M194.03 203.59V207.64 M195.45 188.23V204.44 M196.87 156.88V188.41 M198.29 99.35V156.79 M203.97 121.72V125.64 M208.23 130.06V134.44 M209.65 125.23V129.75 M211.07 123.80V124.60 M212.49 121.75V124.00 M215.33 131.93V135.28 M218.17 128.00V132.96 M219.59 125.32V128.49 M221.01 116.75V125.11 M222.43 115.08V117.90 M226.69 116.14V126.19 M229.53 110.43V116.39 M230.95 96.82V109.80 M233.79 83.28V100.39 M238.05 94.44V105.38 M242.31 99.80V102.53 M250.83 145.61V149.82 M253.67 142.36V146.63 M257.93 142.65V145.48 M260.77 134.89V141.56 M263.61 134.23V138.81 M265.03 133.39V134.33 M266.45 129.13V133.37 M267.87 119.66V129.54 M269.29 116.71V119.64 M270.71 112.41V116.68 M279.23 153.91V158.34 M280.65 147.79V154.74 M283.49 146.64V147.44 M284.91 145.68V146.48 M286.33 140.94V146.09 M287.75 138.06V140.65 M289.17 132.03V137.63 M300.53 174.87V180.70 M307.63 196.61V212.68 M309.05 187.22V196.57 M320.41 240.92V258.48 M323.25 245.35V246.15 M324.67 239.94V244.53 M327.51 238.16V240.22 M328.93 234.23V237.91 M333.19 241.02V244.92 M338.87 243.39V250.55 M345.97 275.91V280.26 M348.81 276.62V278.33 M351.65 278.43V290.21 M353.07 276.86V277.75 M355.91 287.70V296.59 M364.43 316.59V319.34 M365.85 311.76V316.09 M367.27 297.56V311.88 M371.53 293.40V301.59 M374.37 290.59V293.98 M377.21 282.23V293.02 M381.47 286.68V288.66 M382.89 286.10V286.90 M384.31 273.33V286.48 M387.15 271.91V273.30 M392.83 288.43V295.83 M395.67 282.10V293.22 M405.61 306.33V325.04 M407.03 299.87V306.21 M408.45 296.51V299.81 M409.87 294.44V296.38 M411.29 291.17V294.71 M412.71 284.23V291.16 M416.97 290.04V290.86 M418.39 286.10V290.48 M421.23 280.95V289.15 M424.07 279.41V285.22 M425.49 257.03V279.16 M426.91 255.15V256.10 M428.33 253.59V255.72 M431.17 251.90V256.37 M432.59 251.49V252.29 M436.85 256.94V258.59 M439.69 265.53V266.33 M445.37 267.82V276.52 M446.79 232.15V267.56 M448.21 208.85V232.95 M449.63 187.67V208.54 M451.05 185.70V187.55 M452.47 175.15V185.58 M455.31 189.75V190.55 M459.57 197.19V202.27 M460.99 190.88V195.70 M463.83 191.41V192.21 M465.25 184.95V191.65 M466.67 182.61V184.76 M468.09 178.58V183.14 M469.51 177.23V178.03 M473.77 185.45V193.30 M475.19 180.74V185.58 M480.87 210.30V213.34 M483.71 199.62V210.09 M487.97 223.28V224.08 M489.39 213.04V223.47 M490.81 212.00V213.22 M492.23 195.03V211.81 M502.17 224.42V226.68 M505.01 228.65V230.21 M513.53 238.93V249.89 M519.21 248.98V252.13 M520.63 241.27V248.49 M523.47 239.80V243.21 M526.31 239.36V249.43 M529.15 237.53V242.61 M531.99 238.80V242.48 M533.41 235.00V238.43 M534.83 228.81V234.14 M536.25 206.37V228.93 M537.67 202.40V206.80 M539.09 200.08V202.79 M541.93 198.73V205.73 M544.77 193.90V201.80 M546.19 189.48V193.42 M550.45 184.81V190.47 M551.87 182.03V185.09 M558.97 202.27V204.51 M571.75 229.30V237.61 M576.01 228.34V232.43 M577.43 216.42V228.97 M578.85 208.75V217.10 M580.27 207.32V208.61 M583.11 208.65V211.18 M590.21 222.35V227.68 M597.31 224.24V235.23 M598.73 217.16V224.73 M608.67 241.98V245.45 M612.93 244.17V249.31 M615.77 245.20V246.58 M618.61 240.46V245.95 M621.45 240.79V242.51 M622.87 237.42V240.08 M624.29 236.00V237.86 M625.71 227.38V234.85 M628.55 216.98V229.20 M629.97 212.74V217.14 M632.81 221.74V222.54 M635.65 219.79V226.11 M647.01 250.99V253.83 M648.43 250.35V251.51 M649.85 249.48V250.28 M651.27 246.83V250.76 M655.53 239.17V250.31 M656.95 238.62V240.00 M658.37 235.25V238.00 M662.63 242.55V243.35 M669.73 287.24V296.28 M671.15 278.26V287.55 M678.25 297.23V301.65 M681.09 290.41V297.18 M685.35 298.49V301.02 M686.77 293.10V298.48 M688.19 287.55V292.57 M692.45 289.92V293.87 M696.71 303.92V307.07 M699.55 303.35V309.62 M703.81 330.99V333.99" stroke="#089981" stroke-width="1.3" fill="none"/>
<path d="M2.33 209.43V212.40 M5.17 208.68V215.33 M6.59 215.47V223.65 M8.01 223.45V234.89 M9.43 235.11V247.73 M10.85 248.18V252.34 M13.69 247.39V248.98 M15.11 248.83V259.49 M17.95 256.53V258.06 M19.37 257.36V258.16 M20.79 257.57V260.89 M29.31 200.70V202.68 M30.73 202.33V206.85 M34.99 202.65V203.93 M36.41 204.44V206.87 M39.25 204.96V208.33 M40.67 208.39V211.72 M42.09 212.82V213.74 M43.51 213.94V216.39 M46.35 208.21V215.64 M47.77 215.99V222.11 M49.19 222.58V226.59 M50.61 226.39V240.68 M52.03 240.28V253.21 M53.45 253.27V273.26 M54.87 273.47V285.74 M61.97 259.21V264.95 M63.39 264.82V267.30 M64.81 267.54V268.62 M66.23 268.86V273.44 M69.07 273.74V283.34 M70.49 283.26V289.54 M83.27 246.67V248.01 M84.69 247.22V261.33 M86.11 260.87V272.21 M87.53 273.14V279.51 M88.95 278.40V284.44 M91.79 278.68V281.86 M93.21 281.93V284.53 M96.05 284.53V289.91 M97.47 289.36V295.43 M100.31 290.52V299.66 M103.15 297.38V299.05 M111.67 276.20V285.15 M114.51 280.96V288.84 M115.93 288.29V293.84 M125.87 259.71V262.76 M134.39 215.16V224.53 M135.81 223.85V235.49 M137.23 235.88V241.06 M138.65 240.44V251.92 M140.07 252.73V256.38 M144.33 235.78V236.58 M145.75 237.28V245.16 M147.17 245.29V253.93 M157.11 228.01V232.30 M158.53 231.83V235.28 M159.95 235.61V237.28 M162.79 230.70V231.84 M164.21 231.56V235.79 M165.63 236.22V237.92 M167.05 238.22V239.02 M168.47 238.89V248.58 M171.31 248.62V255.00 M176.99 246.89V248.19 M178.41 248.20V250.83 M179.83 251.11V256.75 M181.25 257.22V260.52 M182.67 260.31V266.38 M184.09 266.45V273.84 M199.71 98.88V107.91 M201.13 107.61V115.00 M202.55 115.28V124.81 M205.39 121.01V131.41 M206.81 130.95V134.53 M213.91 122.12V136.07 M216.75 131.86V132.66 M223.85 115.36V118.52 M225.27 118.12V125.70 M228.11 115.36V116.16 M232.37 97.22V100.69 M235.21 83.85V85.83 M236.63 86.20V105.15 M239.47 94.46V99.56 M240.89 100.11V103.44 M243.73 100.01V103.34 M245.15 103.55V106.79 M246.57 107.07V120.75 M247.99 121.17V138.72 M249.41 140.57V149.77 M252.25 145.88V146.68 M255.09 143.15V144.26 M256.51 143.24V144.63 M259.35 142.10V142.90 M262.19 134.35V138.90 M272.13 111.34V119.15 M273.55 119.39V126.18 M274.97 126.69V135.59 M276.39 135.38V141.51 M277.81 140.58V159.01 M282.07 147.14V147.94 M290.59 131.28V138.97 M292.01 138.92V156.42 M293.43 156.92V160.24 M294.85 160.17V166.17 M296.27 166.42V167.22 M297.69 167.11V168.76 M299.11 168.83V180.61 M301.95 174.89V188.17 M303.37 188.37V189.17 M304.79 189.09V205.25 M306.21 204.96V212.62 M310.47 187.46V196.24 M311.89 196.33V212.15 M313.31 212.35V225.92 M314.73 225.18V232.25 M316.15 232.44V243.38 M317.57 244.03V244.83 M318.99 244.16V257.68 M321.83 241.07V246.17 M326.09 240.20V241.00 M330.35 234.51V237.27 M331.77 236.76V245.41 M334.61 240.44V246.84 M336.03 246.60V247.40 M337.45 247.50V250.35 M340.29 243.60V246.15 M341.71 245.97V262.63 M343.13 262.70V268.71 M344.55 268.37V279.26 M347.39 276.01V279.30 M350.23 276.09V289.41 M354.49 276.64V296.38 M357.33 287.15V294.39 M358.75 294.93V298.09 M360.17 298.64V299.44 M361.59 298.74V310.43 M363.01 311.00V319.78 M368.69 297.68V299.06 M370.11 298.77V301.17 M372.95 292.67V294.41 M375.79 290.05V292.64 M378.63 282.63V287.61 M380.05 287.94V289.30 M385.73 272.52V273.71 M388.57 272.24V276.01 M389.99 276.36V283.90 M391.41 284.03V295.56 M394.25 288.59V293.14 M397.09 282.05V297.26 M398.51 296.82V298.85 M399.93 298.67V299.47 M401.35 299.22V303.42 M402.77 304.58V319.37 M404.19 319.50V325.05 M414.13 284.64V288.48 M415.55 288.13V290.69 M419.81 285.52V289.06 M422.65 281.07V285.38 M429.75 253.12V256.99 M434.01 250.64V256.50 M435.43 256.98V258.38 M438.27 257.24V266.14 M441.11 265.20V271.63 M442.53 270.41V271.21 M443.95 271.65V276.76 M453.89 175.08V190.97 M456.73 189.56V197.32 M458.15 197.96V201.89 M462.41 189.90V191.75 M470.93 178.16V186.54 M472.35 186.61V193.03 M476.61 181.17V191.30 M478.03 191.18V201.14 M479.45 200.87V212.95 M482.29 210.15V210.95 M485.13 200.30V213.08 M486.55 213.68V223.21 M493.65 194.54V199.89 M495.07 199.92V202.64 M496.49 202.73V207.91 M497.91 207.58V219.70 M499.33 220.61V222.71 M500.75 221.90V227.09 M503.59 224.08V229.57 M506.43 228.52V234.06 M507.85 233.90V240.19 M509.27 239.75V249.82 M510.69 249.25V250.05 M512.11 248.89V249.69 M514.95 238.85V239.65 M516.37 239.77V247.68 M517.79 247.35V250.88 M522.05 240.24V243.36 M524.89 239.87V249.05 M527.73 238.85V242.31 M530.57 238.38V242.90 M540.51 200.50V205.02 M543.35 198.80V201.32 M547.61 189.09V190.24 M549.03 190.22V191.02 M553.29 182.42V183.22 M554.71 183.13V192.29 M556.13 191.92V192.83 M557.55 192.45V203.82 M560.39 201.87V204.30 M561.81 204.35V212.36 M563.23 212.23V214.59 M564.65 214.61V218.80 M566.07 219.35V220.80 M567.49 220.53V227.69 M568.91 226.99V233.68 M570.33 234.40V237.50 M573.17 229.66V230.59 M574.59 230.58V232.04 M581.69 207.14V210.99 M584.53 208.75V209.77 M585.95 210.05V219.84 M587.37 219.48V222.74 M588.79 221.57V227.46 M591.63 222.74V225.03 M593.05 225.35V226.66 M594.47 227.49V230.70 M595.89 231.12V235.42 M600.15 217.12V225.12 M601.57 225.75V231.07 M602.99 231.19V233.73 M604.41 233.95V235.52 M605.83 235.64V241.56 M607.25 241.59V246.20 M610.09 242.01V246.63 M611.51 245.50V249.06 M614.35 244.67V245.55 M617.19 245.38V246.31 M620.03 239.67V241.54 M627.13 227.36V228.86 M631.39 212.72V222.55 M634.23 221.68V225.61 M637.07 220.01V228.08 M638.49 228.00V231.11 M639.91 231.21V234.02 M641.33 233.56V242.73 M642.75 243.24V246.14 M644.17 246.64V247.44 M645.59 246.92V253.78 M652.69 247.42V248.22 M654.11 247.91V249.82 M659.79 235.56V237.35 M661.21 237.27V243.28 M664.05 243.08V244.29 M665.47 244.05V250.75 M666.89 250.05V285.01 M668.31 284.30V296.29 M672.57 278.25V286.05 M673.99 285.97V291.46 M675.41 291.44V300.03 M676.83 300.63V301.43 M679.67 296.69V297.49 M682.51 291.02V298.48 M683.93 298.19V301.22 M689.61 288.00V293.09 M691.03 292.00V293.14 M693.87 289.70V297.52 M695.29 296.89V306.93 M698.13 303.07V309.35 M700.97 303.74V311.98 M702.39 311.69V334.18" stroke="#f23645" stroke-width="1.3" fill="none"/>
<path d="M667.0 252V417.5" stroke="#f23645" stroke-width="0.9" fill="none" stroke-opacity="0.92"/>
<path d="M0 330.25H952" stroke="#089981" stroke-width="0.6" stroke-opacity="0.8" stroke-dasharray="0.8 1.2" fill="none"/>
<path d="M413.75 146.75L789.75 242.5" stroke="#0b0b0b" stroke-width="1.4" fill="none" stroke-linecap="round"/>
<path d="M675.75 230.5L709.5 325.75L739.5 197.5L754.5 232.5L793.4 79.9" stroke="#0b0b0b" stroke-width="1.4" fill="none" stroke-linejoin="miter" stroke-linecap="round"/>
<path d="M785.1 84.5L793.4 79.9L798.4 87.9" stroke="#0b0b0b" stroke-width="1.2" fill="none" stroke-linecap="round"/>
<rect x="865.6" y="80" width="14.8" height="251.8" fill="#673ab7" fill-opacity="0.14"/>
<path d="M873.3 80V331.8M865.6 80.2H880.6M865.6 331.8H880.6" stroke="#0b0b0b" stroke-width="1.2" fill="none"/>
<path d="M866.1 86.9L873.3 80.2L880.5 86.9" stroke="#0b0b0b" stroke-width="1.2" fill="none"/>
<path d="M195.5 435 L195.5 433.8 L196.7 425.9 L199.7 425 L201.1 432.9 L201.1 435Z" fill="#4caf50" fill-opacity="0.35"/>
<path d="M447.5 435 L447.5 431.2 L449.6 428.5 L454 427.7 L455.8 435 L455.8 435Z" fill="#4caf50" fill-opacity="0.3"/>
<path d="M-0.9 435H946" stroke="#22ab94" stroke-width="1.7" stroke-dasharray="6.8 8.335" fill="none"/>
<path d="M-0.9 473H946" stroke="#f23645" stroke-width="1.7" stroke-dasharray="6.8 8.335" fill="none"/>
<path d="M0.00 454.00 L3.50 455.80 L7.00 457.50 L9.70 466.30 L12.30 463.70 L15.00 462.00 L17.60 461.00 L22.00 462.80 L24.60 449.60 L26.40 445.80 L29.00 447.90 L31.60 445.80 L34.30 447.90 L36.90 448.80 L39.50 452.30 L43.00 451.40 L46.60 455.80 L50.10 462.00 L52.70 466.30 L55.40 470.70 L58.00 466.30 L59.80 460.20 L63.30 462.00 L65.90 460.50 L69.40 464.60 L72.00 463.40 L75.60 460.20 L79.10 457.60 L81.70 448.80 L83.50 452.30 L86.10 459.30 L89.60 458.80 L92.30 462.00 L94.90 459.30 L97.60 460.50 L100.50 464.00 L103.70 459.30 L105.50 456.70 L108.10 457.60 L110.40 452.80 L113.40 457.60 L116.00 455.80 L118.60 451.40 L121.30 447.00 L123.90 449.60 L126.60 446.10 L128.30 442.60 L130.10 434.70 L132.20 433.50 L133.90 440.90 L136.20 449.60 L138.50 454.90 L140.60 451.40 L143.30 447.00 L145.90 452.30 L148.50 453.20 L151.20 449.60 L154.30 444.40 L156.40 448.80 L159.10 450.50 L162.60 447.90 L165.20 452.30 L167.90 454.00 L170.20 460.20 L173.10 457.60 L175.80 454.90 L178.40 459.30 L180.00 460.20 L183.90 465.50 L186.20 454.90 L188.40 445.20 L190.50 444.40 L193.20 438.20 L195.50 433.80 L196.70 425.90 L199.70 425.00 L201.10 432.90 L203.70 437.30 L206.40 442.60 L209.00 440.00 L211.60 440.90 L215.20 447.90 L217.80 444.40 L222.20 440.90 L224.80 446.10 L228.30 444.40 L231.00 437.30 L233.60 435.60 L235.90 446.10 L238.90 445.20 L241.50 448.80 L244.20 452.30 L247.70 462.80 L251.20 461.10 L255.60 456.70 L258.20 461.10 L261.70 457.60 L265.30 452.30 L268.80 448.80 L271.40 451.40 L274.00 452.30 L276.70 460.20 L279.30 459.30 L282.00 460.20 L284.60 459.30 L286.30 454.00 L289.00 450.50 L291.60 459.30 L295.10 461.10 L299.50 462.00 L303.00 465.50 L305.20 469.90 L308.30 461.10 L311.00 465.50 L314.50 467.20 L318.90 470.40 L322.40 466.30 L325.90 464.60 L329.40 462.00 L332.90 463.40 L336.40 462.80 L340.30 461.10 L343.50 467.20 L347.00 464.60 L350.20 466.30 L351.90 459.30 L354.00 465.10 L360.00 466.30 L362.60 470.40 L365.30 461.90 L367.90 459.30 L370.50 461.10 L373.20 455.80 L376.70 454.90 L379.30 458.40 L382.90 451.40 L386.40 447.90 L389.00 455.80 L391.60 459.30 L394.30 454.00 L396.90 460.20 L399.60 456.70 L403.10 462.80 L405.70 455.80 L410.10 452.30 L413.60 454.90 L417.10 452.30 L421.50 449.60 L424.20 441.70 L429.40 440.00 L432.10 444.40 L435.60 444.70 L438.20 448.80 L440.90 454.90 L444.00 456.30 L445.80 446.10 L447.50 431.20 L449.60 428.50 L454.00 427.70 L455.80 435.60 L459.30 445.20 L462.00 440.90 L464.10 442.60 L466.30 438.20 L468.60 445.20 L472.50 447.00 L475.70 446.10 L478.10 457.60 L481.30 455.80 L483.90 454.90 L486.90 462.00 L490.10 455.80 L493.20 449.30 L496.20 454.90 L498.90 459.30 L502.40 460.20 L505.90 462.30 L508.50 464.60 L510.80 468.10 L512.90 460.20 L516.40 463.40 L518.20 462.00 L520.80 454.90 L522.60 460.20 L525.20 455.80 L527.90 457.60 L530.50 455.80 L533.10 454.90 L535.80 443.50 L540.00 444.40 L542.60 442.60 L544.90 438.20 L547.40 442.30 L550.50 438.20 L553.20 438.70 L554.90 450.50 L557.60 452.30 L560.20 450.50 L562.90 456.70 L566.00 462.00 L569.00 465.50 L572.00 461.10 L573.80 462.80 L576.00 454.90 L578.70 448.80 L581.30 455.80 L583.90 450.50 L586.60 457.60 L590.10 456.70 L592.70 461.10 L594.80 457.60 L597.10 452.30 L599.80 456.70 L601.50 461.10 L605.00 459.30 L608.60 461.10 L611.70 462.30 L613.80 459.30 L616.50 461.10 L619.10 459.30 L621.20 454.00 L624.00 452.30 L626.50 445.20 L628.80 442.60 L631.40 451.40 L634.00 448.80 L635.80 448.80 L637.60 454.00 L640.20 456.70 L642.30 462.00 L645.50 465.10 L648.10 462.00 L652.50 461.10 L655.10 453.20 L657.80 454.90 L660.40 452.80 L663.00 458.40 L665.20 459.30 L666.60 472.50 L668.30 472.50 L670.40 463.70 L673.60 464.60 L677.10 468.10 L680.60 463.70 L683.30 465.50 L685.90 462.00 L689.40 459.80 L692.90 462.00 L695.60 465.80 L698.20 462.80 L700.00 463.40 L701.70 469.90 L703.80 469.30" stroke="#7e57c2" stroke-width="1.45" fill="none" stroke-linejoin="round"/>
<path d="M0.00 456.30 C1.17 456.42 4.67 456.50 7.00 457.00 C9.33 457.50 11.50 458.47 14.00 459.30 C16.50 460.13 19.67 462.15 22.00 462.00 C24.33 461.85 25.80 459.87 28.00 458.40 C30.20 456.93 32.70 454.72 35.20 453.20 C37.70 451.68 40.82 449.67 43.00 449.30 C45.18 448.93 46.38 449.77 48.30 451.00 C50.22 452.23 52.30 454.87 54.50 456.70 C56.70 458.53 59.02 460.68 61.50 462.00 C63.98 463.32 66.77 464.60 69.40 464.60 C72.03 464.60 74.52 463.03 77.30 462.00 C80.08 460.97 83.17 459.13 86.10 458.40 C89.03 457.67 92.25 457.37 94.90 457.60 C97.55 457.83 99.65 459.52 102.00 459.80 C104.35 460.08 106.37 459.67 109.00 459.30 C111.63 458.93 115.17 458.62 117.80 457.60 C120.43 456.58 122.60 454.82 124.80 453.20 C127.00 451.58 129.10 449.32 131.00 447.90 C132.90 446.48 134.02 445.05 136.20 444.70 C138.38 444.35 141.47 444.98 144.10 445.80 C146.73 446.62 149.35 448.97 152.00 449.60 C154.65 450.23 157.35 449.53 160.00 449.60 C162.65 449.67 165.27 449.40 167.90 450.00 C170.53 450.60 173.78 452.38 175.80 453.20 C177.82 454.02 178.27 454.08 180.00 454.90 C181.73 455.72 184.15 458.38 186.20 458.10 C188.25 457.82 190.40 455.20 192.30 453.20 C194.20 451.20 195.70 448.80 197.60 446.10 C199.50 443.40 201.37 438.90 203.70 437.00 C206.03 435.10 209.25 434.35 211.60 434.70 C213.95 435.05 215.75 437.63 217.80 439.10 C219.85 440.57 221.70 442.57 223.90 443.50 C226.10 444.43 228.65 444.70 231.00 444.70 C233.35 444.70 235.67 443.42 238.00 443.50 C240.33 443.58 242.65 443.88 245.00 445.20 C247.35 446.52 249.75 449.33 252.10 451.40 C254.45 453.47 257.05 456.28 259.10 457.60 C261.15 458.92 262.65 459.45 264.40 459.30 C266.15 459.15 267.85 457.43 269.60 456.70 C271.35 455.97 272.83 455.13 274.90 454.90 C276.97 454.67 279.65 455.00 282.00 455.30 C284.35 455.60 286.67 456.12 289.00 456.70 C291.33 457.28 293.67 458.17 296.00 458.80 C298.33 459.43 300.65 459.73 303.00 460.50 C305.35 461.27 307.75 462.52 310.10 463.40 C312.45 464.28 314.77 465.17 317.10 465.80 C319.43 466.43 321.75 467.02 324.10 467.20 C326.45 467.38 328.85 467.25 331.20 466.90 C333.55 466.55 335.87 465.57 338.20 465.10 C340.53 464.63 342.85 464.18 345.20 464.10 C347.55 464.02 349.83 464.37 352.30 464.60 C354.77 464.83 357.55 465.42 360.00 465.50 C362.45 465.58 364.65 465.75 367.00 465.10 C369.35 464.45 371.75 462.72 374.10 461.60 C376.45 460.48 378.77 459.52 381.10 458.40 C383.43 457.28 385.75 455.53 388.10 454.90 C390.45 454.27 392.85 454.37 395.20 454.60 C397.55 454.83 399.87 455.80 402.20 456.30 C404.53 456.80 406.87 457.68 409.20 457.60 C411.53 457.52 413.85 456.68 416.20 455.80 C418.55 454.92 420.95 453.62 423.30 452.30 C425.65 450.98 427.97 449.08 430.30 447.90 C432.63 446.72 435.25 445.43 437.30 445.20 C439.35 444.97 441.13 446.12 442.60 446.50 C444.07 446.88 444.63 447.85 446.10 447.50 C447.57 447.15 449.35 445.65 451.40 444.40 C453.45 443.15 456.05 441.42 458.40 440.00 C460.75 438.58 463.45 435.75 465.50 435.90 C467.55 436.05 468.65 439.20 470.70 440.90 C472.75 442.60 475.45 444.35 477.80 446.10 C480.15 447.85 482.47 449.93 484.80 451.40 C487.13 452.87 489.45 454.08 491.80 454.90 C494.15 455.72 496.55 455.77 498.90 456.30 C501.25 456.83 503.57 457.22 505.90 458.10 C508.23 458.98 510.85 460.82 512.90 461.60 C514.95 462.38 516.15 462.88 518.20 462.80 C520.25 462.72 522.85 461.83 525.20 461.10 C527.55 460.37 529.83 459.87 532.30 458.40 C534.77 456.93 537.55 454.35 540.00 452.30 C542.45 450.25 544.80 447.87 547.00 446.10 C549.20 444.33 550.85 441.85 553.20 441.70 C555.55 441.55 558.62 443.28 561.10 445.20 C563.58 447.12 565.90 450.93 568.10 453.20 C570.30 455.47 571.95 457.98 574.30 458.80 C576.65 459.62 579.72 458.60 582.20 458.10 C584.68 457.60 586.87 456.33 589.20 455.80 C591.53 455.27 593.85 454.70 596.20 454.90 C598.55 455.10 600.95 456.35 603.30 457.00 C605.65 457.65 607.67 458.33 610.30 458.80 C612.93 459.27 616.47 460.00 619.10 459.80 C621.73 459.60 623.75 458.70 626.10 457.60 C628.45 456.50 631.00 454.38 633.20 453.20 C635.40 452.02 637.25 450.37 639.30 450.50 C641.35 450.63 643.30 452.62 645.50 454.00 C647.70 455.38 650.17 457.83 652.50 458.80 C654.83 459.77 657.30 459.80 659.50 459.80 C661.70 459.80 663.65 458.73 665.70 458.80 C667.75 458.87 669.60 459.38 671.80 460.20 C674.00 461.02 676.70 462.68 678.90 463.70 C681.10 464.72 682.95 466.23 685.00 466.30 C687.05 466.37 689.00 464.58 691.20 464.10 C693.40 463.62 696.10 463.40 698.20 463.40 C700.30 463.40 702.87 463.98 703.80 464.10" stroke="#fdd835" stroke-width="1.5" fill="none" stroke-linejoin="round"/>
<text x="5" y="13.5" font-size="8.5" fill="#1e222d" textLength="121" lengthAdjust="spacingAndGlyphs">PEPE / U. S. Dollar · 1D · Kraken</text>
<text x="131.75" y="13.5" font-size="8.5" fill="#1e222d" textLength="5.5" lengthAdjust="spacingAndGlyphs">O</text>
<text x="138" y="13.5" font-size="8.5" fill="#089981" textLength="51.5" lengthAdjust="spacingAndGlyphs">0.000005601</text>
<text x="195.5" y="13.5" font-size="8.5" fill="#1e222d" textLength="5.5" lengthAdjust="spacingAndGlyphs">H</text>
<text x="201.3" y="13.5" font-size="8.5" fill="#089981" textLength="51.5" lengthAdjust="spacingAndGlyphs">0.000005714</text>
<text x="258" y="13.5" font-size="8.5" fill="#1e222d" textLength="4" lengthAdjust="spacingAndGlyphs">L</text>
<text x="262.4" y="13.5" font-size="8.5" fill="#089981" textLength="51.5" lengthAdjust="spacingAndGlyphs">0.000005298</text>
<text x="321" y="13.5" font-size="8.5" fill="#1e222d" textLength="5.5" lengthAdjust="spacingAndGlyphs">C</text>
<text x="327" y="13.5" font-size="8.5" fill="#089981" textLength="51.5" lengthAdjust="spacingAndGlyphs">0.000005666</text>
<text x="385.5" y="13.5" font-size="8.5" fill="#089981" textLength="95.5" lengthAdjust="spacingAndGlyphs">+0.000000069 (+1.23%)</text>
<text x="5" y="25.4" font-size="8.5" fill="#1e222d" textLength="56" lengthAdjust="spacingAndGlyphs">Vol · PEPE (14)</text>
<text x="67" y="25.4" font-size="8.5" fill="#26a69a" textLength="32" lengthAdjust="spacingAndGlyphs">102.24 B</text>
<text x="104.5" y="25.4" font-size="8.5" fill="#2962ff" textLength="31.5" lengthAdjust="spacingAndGlyphs">179.97 B</text>
<text x="5" y="36.8" font-size="8.5" fill="#1e222d" textLength="66" lengthAdjust="spacingAndGlyphs">EMA (200, close)</text>
<text x="76.25" y="36.8" font-size="8.5" fill="#ff9800" textLength="52.3" lengthAdjust="spacingAndGlyphs">0.000009831</text>
<text x="5" y="432.9" font-size="8.5" fill="#1e222d" textLength="55" lengthAdjust="spacingAndGlyphs">RSI (14, close)</text>
<text x="65.6" y="432.9" font-size="8.5" fill="#7e57c2" textLength="21.5" lengthAdjust="spacingAndGlyphs">29.89</text>
<text x="92.8" y="432.9" font-size="8.5" fill="#fdd835" textLength="22.2" lengthAdjust="spacingAndGlyphs">36.84</text>
<rect x="954.5" y="2.7" width="67" height="17.3" rx="2.5" fill="#fff" stroke="#eceef2" stroke-width="1"/>
<text x="961" y="14.2" font-size="8.5" fill="#1e222d" textLength="16.5" lengthAdjust="spacingAndGlyphs">USD</text>
<text x="958" y="47.0" font-size="8.5" fill="#1e222d" textLength="54" lengthAdjust="spacingAndGlyphs">0.000034000</text>
<text x="958" y="78.0" font-size="8.5" fill="#1e222d" textLength="54" lengthAdjust="spacingAndGlyphs">0.000028000</text>
<text x="958" y="103.0" font-size="8.5" fill="#1e222d" textLength="54" lengthAdjust="spacingAndGlyphs">0.000024000</text>
<text x="958" y="132.0" font-size="8.5" fill="#1e222d" textLength="54" lengthAdjust="spacingAndGlyphs">0.000020000</text>
<text x="958" y="158.0" font-size="8.5" fill="#1e222d" textLength="54" lengthAdjust="spacingAndGlyphs">0.000017000</text>
<text x="958" y="189.0" font-size="8.5" fill="#1e222d" textLength="54" lengthAdjust="spacingAndGlyphs">0.000014000</text>
<text x="958" y="213.0" font-size="8.5" fill="#1e222d" textLength="54" lengthAdjust="spacingAndGlyphs">0.000012000</text>
<text x="958" y="235.0" font-size="8.5" fill="#1e222d" textLength="54" lengthAdjust="spacingAndGlyphs">0.000010500</text>
<text x="958" y="260.0" font-size="8.5" fill="#1e222d" textLength="54" lengthAdjust="spacingAndGlyphs">0.000009000</text>
<text x="958" y="289.0" font-size="8.5" fill="#1e222d" textLength="54" lengthAdjust="spacingAndGlyphs">0.000007500</text>
<text x="958" y="312.0" font-size="8.5" fill="#1e222d" textLength="54" lengthAdjust="spacingAndGlyphs">0.000006500</text>
<text x="958" y="357.0" font-size="8.5" fill="#1e222d" textLength="54" lengthAdjust="spacingAndGlyphs">0.000004900</text>
<text x="958" y="378.0" font-size="8.5" fill="#1e222d" textLength="54" lengthAdjust="spacingAndGlyphs">0.000004300</text>
<text x="958" y="400.0" font-size="8.5" fill="#1e222d" textLength="54" lengthAdjust="spacingAndGlyphs">0.000003750</text>
<text x="958" y="435.2" font-size="8.5" fill="#1e222d" textLength="23" lengthAdjust="spacingAndGlyphs">80.00</text>
<rect x="952.3" y="236.8" width="64" height="10.8" rx="1" fill="#ff9800"/>
<text x="958" y="245.3" font-size="8.5" fill="#131722" textLength="54" lengthAdjust="spacingAndGlyphs">0.000009831</text>
<rect x="908.5" y="324.3" width="43.8" height="11.5" rx="1.5" fill="#089981"/>
<rect x="952.3" y="324.3" width="64" height="21.5" rx="1.5" fill="#089981"/>
<path d="M952.3 324.8V335.4" stroke="#5fc0b0" stroke-width="0.6"/>
<text x="911.5" y="333.3" font-size="8.5" fill="#ffffff" textLength="37.5" lengthAdjust="spacingAndGlyphs">PEPEUSD</text>
<text x="958" y="333.3" font-size="8.5" fill="#ffffff" textLength="54" lengthAdjust="spacingAndGlyphs">0.000005666</text>
<text x="958" y="343" font-size="8.5" fill="#ffffff" textLength="35.5" lengthAdjust="spacingAndGlyphs" fill-opacity="0.8">11:35:12</text>
<rect x="952.3" y="405.8" width="44" height="11.7" rx="1.5" fill="#2962ff"/>
<text x="958.5" y="414.8" font-size="8.5" fill="#ffffff" textLength="34.5" lengthAdjust="spacingAndGlyphs">179.97 B</text>
<rect x="952.3" y="452" width="32.5" height="11.6" rx="1.5" fill="#fdd835"/>
<text x="958.5" y="461" font-size="8.5" fill="#131722" textLength="22.5" lengthAdjust="spacingAndGlyphs">36.84</text>
<rect x="952.3" y="463.6" width="32.5" height="11.3" rx="1.5" fill="#7e57c2"/>
<text x="958.5" y="472.4" font-size="8.5" fill="#ffffff" textLength="22.5" lengthAdjust="spacingAndGlyphs">29.89</text>
<defs><filter id="sh" x="-10%" y="-40%" width="120%" height="200%"><feDropShadow dx="0" dy="0.8" stdDeviation="1.4" flood-color="#000" flood-opacity="0.16"/></filter></defs>
<rect x="801.8" y="55.8" width="142.4" height="17.5" rx="3" fill="#ffffff" filter="url(#sh)"/>
<text x="808" y="68" font-size="8.5" fill="#1e222d" textLength="130" lengthAdjust="spacingAndGlyphs">0.000021470 (382.38%) 21,470</text>
<text x="0.12" y="491.8" font-size="8.5" fill="#1e222d" textLength="10.5" lengthAdjust="spacingAndGlyphs">Jul</text>
<text x="42.14" y="491.8" font-size="8.5" fill="#1e222d" textLength="14.5" lengthAdjust="spacingAndGlyphs">Aug</text>
<text x="86.16" y="491.8" font-size="8.5" fill="#1e222d" textLength="14.5" lengthAdjust="spacingAndGlyphs">Sep</text>
<text x="129.51" y="491.8" font-size="8.5" fill="#1e222d" textLength="13" lengthAdjust="spacingAndGlyphs">Oct</text>
<text x="172.78" y="491.8" font-size="8.5" fill="#1e222d" textLength="14.5" lengthAdjust="spacingAndGlyphs">Nov</text>
<text x="215.38" y="491.8" font-size="8.5" fill="#1e222d" textLength="14.5" lengthAdjust="spacingAndGlyphs">Dec</text>
<text x="256.15" y="491.8" font-size="8.5" fill="#1e222d" textLength="21" lengthAdjust="spacingAndGlyphs" font-weight="bold">2025</text>
<text x="303.67" y="491.8" font-size="8.5" fill="#1e222d" textLength="14" lengthAdjust="spacingAndGlyphs">Feb</text>
<text x="343.68" y="491.8" font-size="8.5" fill="#1e222d" textLength="13.5" lengthAdjust="spacingAndGlyphs">Mar</text>
<text x="387.7" y="491.8" font-size="8.5" fill="#1e222d" textLength="13.5" lengthAdjust="spacingAndGlyphs">Apr</text>
<text x="429.3" y="491.8" font-size="8.5" fill="#1e222d" textLength="15.5" lengthAdjust="spacingAndGlyphs">May</text>
<text x="474.32" y="491.8" font-size="8.5" fill="#1e222d" textLength="13.5" lengthAdjust="spacingAndGlyphs">Jun</text>
<text x="518.42" y="491.8" font-size="8.5" fill="#1e222d" textLength="10.5" lengthAdjust="spacingAndGlyphs">Jul</text>
<text x="560.44" y="491.8" font-size="8.5" fill="#1e222d" textLength="14.5" lengthAdjust="spacingAndGlyphs">Aug</text>
<text x="604.46" y="491.8" font-size="8.5" fill="#1e222d" textLength="14.5" lengthAdjust="spacingAndGlyphs">Sep</text>
<text x="647.81" y="491.8" font-size="8.5" fill="#1e222d" textLength="13" lengthAdjust="spacingAndGlyphs">Oct</text>
<text x="691.08" y="491.8" font-size="8.5" fill="#1e222d" textLength="14.5" lengthAdjust="spacingAndGlyphs">Nov</text>
<text x="733.68" y="491.8" font-size="8.5" fill="#1e222d" textLength="14.5" lengthAdjust="spacingAndGlyphs">Dec</text>
<text x="774.45" y="491.8" font-size="8.5" fill="#1e222d" textLength="21" lengthAdjust="spacingAndGlyphs" font-weight="bold">2026</text>
<text x="821.97" y="491.8" font-size="8.5" fill="#1e222d" textLength="14" lengthAdjust="spacingAndGlyphs">Feb</text>
<text x="861.98" y="491.8" font-size="8.5" fill="#1e222d" textLength="13.5" lengthAdjust="spacingAndGlyphs">Mar</text>
<text x="906.0" y="491.8" font-size="8.5" fill="#1e222d" textLength="13.5" lengthAdjust="spacingAndGlyphs">Apr</text>
</svg>
</body></html>
